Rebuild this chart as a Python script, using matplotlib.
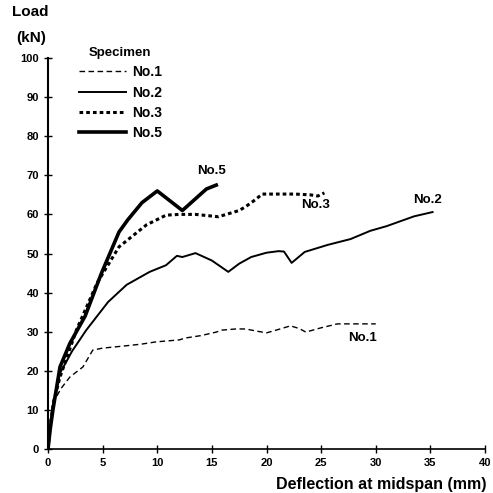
import matplotlib
matplotlib.use("Agg")
import matplotlib.pyplot as plt

plt.rcParams['font.family'] = ['Liberation Sans', 'DejaVu Sans']
plt.rcParams['font.weight'] = 'bold'

# Data (deflection mm, load kN)
no1_x = [0, 0.2, 0.6, 1.2, 2.0, 3.2, 4.1, 5.0, 6.8, 8.5, 9.9, 12.0, 12.6, 14.0, 15.4, 15.9, 17.2, 18.1, 19.0, 20.0, 21.0, 22.2, 23.0, 23.6, 25.0, 26.5, 28.0, 30.0]
no1_y = [0, 6, 12.5, 15.5, 18.4, 21, 25.3, 25.8, 26.3, 26.8, 27.4, 27.9, 28.4, 29.0, 29.9, 30.4, 30.7, 30.7, 30.2, 29.7, 30.5, 31.5, 30.8, 29.9, 31.0, 32, 32, 32]

no2_x = [0, 0.2, 0.5, 1.1, 2.2, 3.5, 5.5, 7.2, 9.3, 10.8, 11.8, 12.3, 13.5, 15.0, 16.5, 17.5, 18.6, 20.0, 21.1, 21.6, 22.3, 23.5, 25.6, 27.7, 29.5, 31.0, 32.0, 33.5, 35.2]
no2_y = [0, 6, 12, 19.4, 25, 30.4, 37.6, 42, 45.3, 47, 49.4, 49.1, 50.1, 48.2, 45.3, 47.4, 49.1, 50.2, 50.6, 50.5, 47.6, 50.4, 52.2, 53.7, 55.8, 57.0, 58, 59.5, 60.6]

no3_x = [0, 0.2, 0.5, 1.1, 2.6, 4.5, 6.5, 9.0, 10.8, 12.0, 13.5, 15.6, 17.5, 18.1, 19.0, 19.6, 21.0, 22.6, 24.0, 24.7, 25.3]
no3_y = [0, 6, 12, 18.4, 30.4, 42.5, 51.7, 57.3, 59.8, 60.0, 60.0, 59.4, 61.0, 62.0, 63.8, 65.2, 65.2, 65.2, 65.0, 64.7, 65.5]

no5_x = [0, 0.2, 0.45, 1.1, 2.0, 3.4, 4.9, 6.5, 7.3, 8.6, 10.0, 12.3, 13.5, 14.5, 15.4]
no5_y = [0, 5, 10, 21, 27, 34, 45, 55.5, 58.6, 63, 66, 61, 64, 66.5, 67.5]

x_ticks = [0, 5, 10, 15, 20, 25, 30, 35, 40]
y_ticks = [0, 10, 20, 30, 40, 50, 60, 70, 80, 90, 100]

fig = plt.figure(figsize=(4.93, 4.93), dpi=100)
ax = fig.add_axes([48/493, 1-449/493, 437/493, (449-58)/493])

l1, = ax.plot(no1_x, no1_y, color='black', lw=1.0, linestyle=(0, (4, 2.5)), label='No.1')
l2, = ax.plot(no2_x, no2_y, color='black', lw=1.4, linestyle='-', label='No.2')
l3, = ax.plot(no3_x, no3_y, color='black', lw=2.2, linestyle=(0, (1.2, 1.0)), label='No.3')
l5, = ax.plot(no5_x, no5_y, color='black', lw=2.6, linestyle='-', label='No.5')

ax.set_xlim(0, 40)
ax.set_ylim(0, 100)
ax.set_xticks(x_ticks)
ax.set_yticks(y_ticks)
ax.tick_params(direction='inout', length=6, width=1, labelsize=8)
for lab in ax.get_xticklabels() + ax.get_yticklabels():
    lab.set_fontweight('bold')
ax.spines['top'].set_visible(False)
ax.spines['right'].set_visible(False)
ax.spines['left'].set_linewidth(1.5)
ax.spines['bottom'].set_linewidth(1.2)

# Curve labels
ax.text(15.0, 69.5, 'No.5', fontsize=9.5, fontweight='bold', ha='center', va='bottom')
ax.text(24.5, 62.5, 'No.3', fontsize=9.5, fontweight='bold', ha='center', va='center')
ax.text(34.7, 63.8, 'No.2', fontsize=9.5, fontweight='bold', ha='center', va='center')
ax.text(28.8, 28.5, 'No.1', fontsize=9.5, fontweight='bold', ha='center', va='center')

leg = ax.legend(handles=[l1, l2, l3, l5], loc='upper left', bbox_to_anchor=(0.042, 1.06),
                frameon=False, title='Specimen', fontsize=10, handlelength=3.4,
                handletextpad=0.4, labelspacing=0.45)
leg.get_title().set_fontweight('bold')
leg.get_title().set_fontsize(9.5)
for t in leg.get_texts():
    t.set_fontweight('bold')

fig.text(30/493, 1-12/493, 'Load', fontsize=11, fontweight='bold', ha='center', va='center')
fig.text(31/493, 1-38/493, '(kN)', fontsize=11, fontweight='bold', ha='center', va='center')
fig.text(486/493, 1-484/493, 'Deflection at midspan (mm)', fontsize=11.5, fontweight='bold', ha='right', va='center')

fig.savefig('out.png', dpi=100)
